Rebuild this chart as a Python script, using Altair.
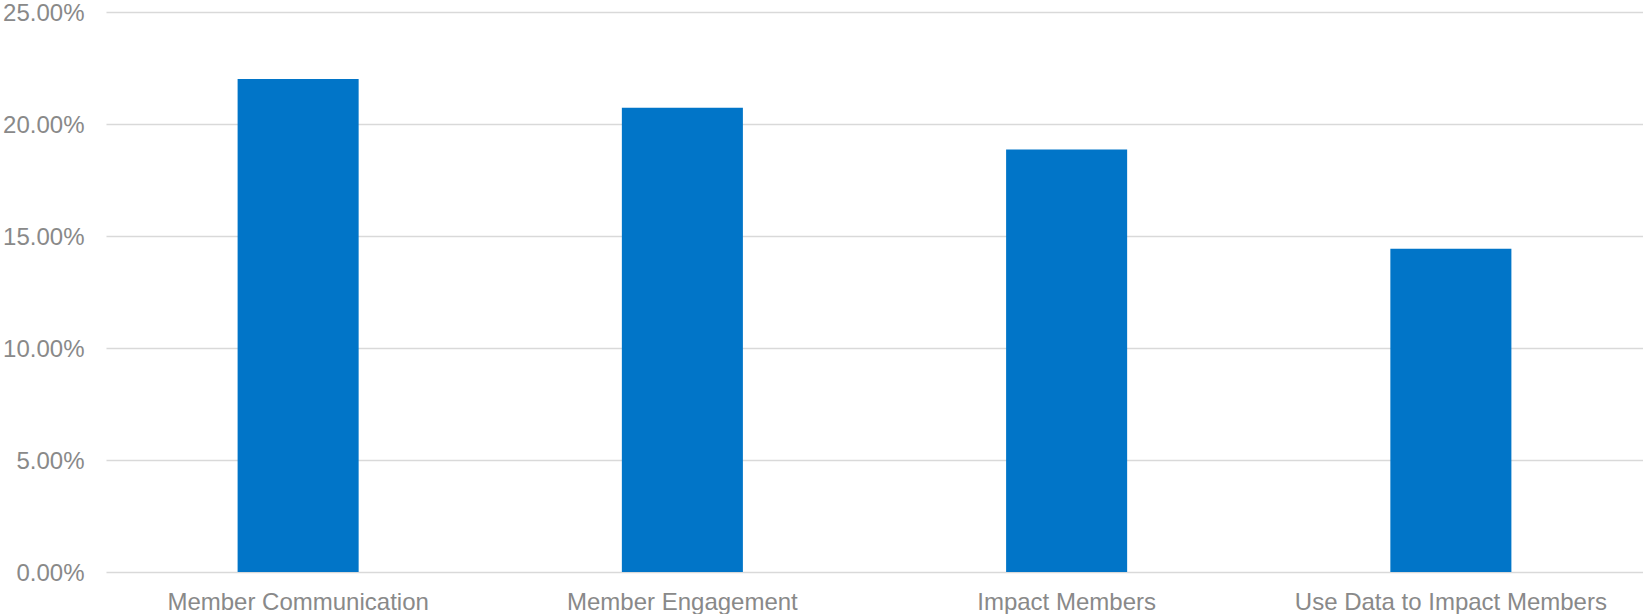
import altair as alt
import pandas as pd

categories = ["Member Communication", "Member Engagement", "Impact Members", "Use Data to Impact Members"]
values = [0.2201, 0.2073, 0.1886, 0.1443]
y_ticks = [0, 0.05, 0.10, 0.15, 0.20, 0.25]

df = pd.DataFrame({"category": categories, "value": values})

chart = alt.Chart(df).mark_bar(
    color="#0175C8", width=alt.RelativeBandSize(0.315)
).encode(
    x=alt.X("category:N", sort=categories, title=None,
            axis=alt.Axis(labelAngle=0, labelFont="Liberation Sans", labelFontSize=24,
                          labelColor="#898989", ticks=False, domain=False,
                          labelPadding=18, labelLimit=500)),
    y=alt.Y("value:Q", title=None,
            scale=alt.Scale(domain=[0, 0.25], nice=False),
            axis=alt.Axis(values=y_ticks, format=".2%", labelFont="Liberation Sans",
                          labelFontSize=24, labelColor="#898989", ticks=False, domain=False,
                          labelPadding=22, labelOffset=1, gridColor="#d9d9d9", gridWidth=1.3)),
).properties(
    width=1537, height=560,
    padding={"left": 106, "top": 12, "right": 0, "bottom": 42},
    autosize=alt.AutoSizeParams(type="none"),
).configure_view(stroke=None).configure_scale(bandPaddingInner=0, bandPaddingOuter=0)

chart.save("out.html", embed_options={"renderer": "svg", "actions": False})
